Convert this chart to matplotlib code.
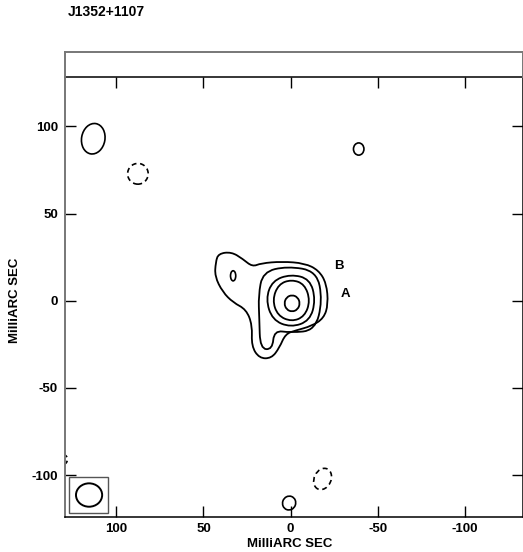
import numpy as np
import matplotlib
matplotlib.use("Agg")
import matplotlib.pyplot as plt
from matplotlib.path import Path
from matplotlib.patches import PathPatch, Ellipse, Rectangle

plt.rcParams['font.family'] = ['Liberation Sans', 'DejaVu Sans']
plt.rcParams['font.weight'] = 'bold'

title = "J1352+1107"
xticks = [100, 50, 0, -50, -100]
yticks = [100, 50, 0, -50, -100]
xlim = (129.4, -133.2)
ylim = (-124.0, 128.3)

# contour outlines around the core (mas)
ring1 = [(3.8, -1.5), (2.45, 2.0), (-0.8, 3.4), (-4.05, 2.0),
         (-5.4, -1.5), (-4.05, -5.0), (-0.8, -6.4), (2.45, -5.0)]
ring2 = [(7.0, 9.5), (-0.5, 12.2), (-8.0, 9.5), (-11.2, 0.0),
         (-8.0, -9.0), (-0.5, -12.0), (7.5, -8.5), (10.5, 0.5)]
ring3 = [(10.5, 11.5), (0.0, 15.2), (-11.0, 12.5), (-14.3, 0.5),
         (-11.0, -11.5), (0.0, -15.3), (10.5, -11.0), (14.3, 1.0)]
ring4 = [(16.0, 16.5), (2.0, 19.8), (-15.0, 17.0), (-18.2, 0.0),
         (-14.0, -17.0), (0.0, -18.3), (9.5, -17.0), (10.5, -28.0),
         (17.5, -27.5), (18.0, -10.0), (18.5, 3.0)]
outer = [(41.5, 27.0), (34.0, 28.0), (27.5, 24.0), (22.0, 19.5),
         (17.0, 21.5), (5.0, 22.5), (-8.0, 21.5), (-16.0, 17.5),
         (-20.5, 10.0), (-21.5, -2.0), (-19.0, -10.0), (-12.0, -14.5),
         (-3.0, -17.0), (3.0, -19.0), (6.5, -27.0), (11.0, -33.0),
         (18.0, -33.0), (22.5, -26.0), (22.0, -14.0), (25.5, -5.0),
         (33.0, -1.0), (39.0, 5.0), (43.5, 14.0), (43.0, 22.0)]
core_rings = [ring1, ring2, ring3, ring4, outer]

# small isolated contours: centre x, centre y, width, height, angle, dashed?
blob_x = [113.2, 87.6, -39.0, 33.0, -18.3, 0.9, 131.0]
blob_y = [92.9, 72.8, 87.0, 14.3, -102.2, -116.0, -91.0]
blob_w = [13.4, 11.8, 6.0, 3.0, 9.6, 7.5, 6.0]
blob_h = [17.6, 11.9, 7.0, 5.8, 12.7, 8.0, 6.0]
blob_ang = [10, 0, 0, 0, 25, 20, 0]
blob_neg = [False, True, False, False, True, False, True]

# restoring beam
beam_xy = (115.6, -111.4)
beam_w, beam_h = 15.0, 13.4
beam_box = (104.6, -121.5, 22.4, 20.6)

labels = ["B", "A"]
label_x = [-27.9, -31.7]
label_y = [19.8, 3.8]


def smooth_path(pts):
    pts = np.asarray(pts, dtype=float)
    mids = (pts + np.roll(pts, -1, axis=0)) / 2
    verts = [mids[-1]]
    codes = [Path.MOVETO]
    for p, m in zip(pts, mids):
        verts += [p, m]
        codes += [Path.CURVE3, Path.CURVE3]
    return Path(verts, codes)


fig = plt.figure(figsize=(5.23, 5.52), dpi=100)
ax = fig.add_axes([65 / 523, 1 - 517 / 552, 458 / 523, 440 / 552])

for r in core_rings:
    ax.add_patch(PathPatch(smooth_path(r), fill=False, lw=1.3, ec='black'))

for x, y, w, h, a, neg in zip(blob_x, blob_y, blob_w, blob_h, blob_ang, blob_neg):
    ls = (0, (3.0, 2.2)) if neg else '-'
    ax.add_patch(Ellipse((x, y), w, h, angle=a, fill=False, lw=1.2,
                         ec='black', ls=ls))

ax.add_patch(Ellipse(beam_xy, beam_w, beam_h, fill=False, lw=1.4, ec='black'))
ax.add_patch(Rectangle(beam_box[:2], beam_box[2], beam_box[3], fill=False,
                       lw=1.0, ec='#555555'))

for t, x, y in zip(labels, label_x, label_y):
    ax.text(x, y, t, fontsize=9.5, fontweight='bold', ha='center', va='center')

ax.set_xlim(*xlim)
ax.set_ylim(*ylim)
ax.set_xticks(xticks)
ax.set_yticks(yticks)
ax.set_xticklabels([str(v) for v in xticks])
ax.set_yticklabels([str(v) for v in yticks])
ax.tick_params(direction='in', length=8, width=1, top=True, right=True,
               labelsize=9.5, pad=5)
ax.tick_params(axis='x', pad=4)
for lab in ax.get_xticklabels() + ax.get_yticklabels():
    lab.set_fontweight('bold')
ax.set_xlabel("MilliARC SEC", fontsize=9.5, fontweight='bold')
ax.set_ylabel("MilliARC SEC", fontsize=9.5, fontweight='bold')
ax.xaxis.set_label_coords(0.491, -0.048)
ax.yaxis.set_label_coords(-0.096, 0.493)
ax.spines['left'].set_color('#777777')
ax.spines['left'].set_linewidth(1.4)
for s in ['bottom', 'top', 'right']:
    ax.spines[s].set_linewidth(1.1)

# empty band above the map
band = fig.add_axes([65 / 523, 1 - 77 / 552, 458 / 523, 25 / 552])
band.set_xticks([])
band.set_yticks([])
band.patch.set_alpha(0)
band.spines['bottom'].set_visible(False)
for s in ['left', 'top', 'right']:
    band.spines[s].set_color('#777777')
    band.spines[s].set_linewidth(1.4)

fig.text(68 / 523, 1 - 12 / 552, title, fontsize=10, fontweight='bold',
         ha='left', va='center')

fig.savefig("out.png", dpi=100)
